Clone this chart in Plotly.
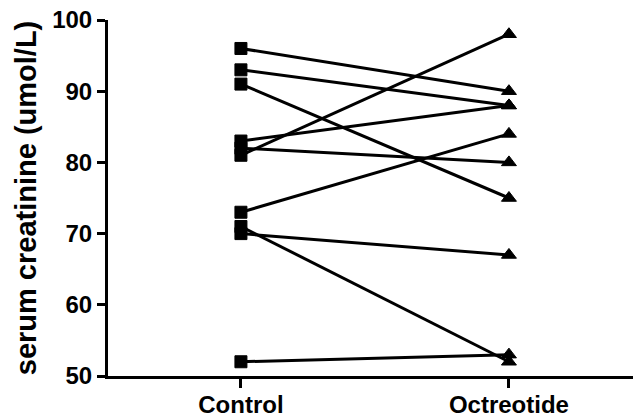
import plotly.graph_objects as go

groups = ["Control", "Octreotide"]
control = [96, 93, 91, 83, 82, 81, 73, 71, 70, 52]
octreotide = [90, 88, 75, 88, 80, 98, 84, 52, 67, 53]
y_ticks = [50, 60, 70, 80, 90, 100]

fig = go.Figure()
for c, o in zip(control, octreotide):
    fig.add_trace(go.Scatter(
        x=[0, 1], y=[c, o], mode="lines+markers",
        line=dict(color="#000000", width=3),
        marker=dict(symbol=["square", "triangle-up"], size=[12, 13], color="#000000",
                    opacity=1, line=dict(width=1, color="#000000")),
        opacity=1, showlegend=False, hoverinfo="skip"))

font = dict(family="Liberation Sans, Arial, sans-serif", size=24, color="black")
fig.update_layout(
    width=633, height=411,
    margin=dict(l=100, r=1, t=12, b=43),
    plot_bgcolor="white", paper_bgcolor="white",
    font=font,
    xaxis=dict(range=[-0.496, 1.489], tickvals=[0, 1], ticktext=["<b>%s</b>" % g for g in groups],
               showline=True, linewidth=3, linecolor="black", ticks="outside", ticklen=9,
               tickwidth=3, tickcolor="black", showgrid=False, zeroline=False,
               automargin=False, ticklabeloverflow="allow", ticklabelstandoff=-4),
    yaxis=dict(range=[50, 100], tickvals=y_ticks, ticktext=["<b>%d</b>" % v for v in y_ticks],
               showline=True, linewidth=3, linecolor="black", ticks="outside", ticklen=8,
               tickwidth=3, tickcolor="black", showgrid=False, zeroline=False,
               automargin=False, ticklabeloverflow="allow",
               title=dict(text="<b>serum creatinine (umol/L)</b>", standoff=8)),
)
fig.write_html("out.html")
